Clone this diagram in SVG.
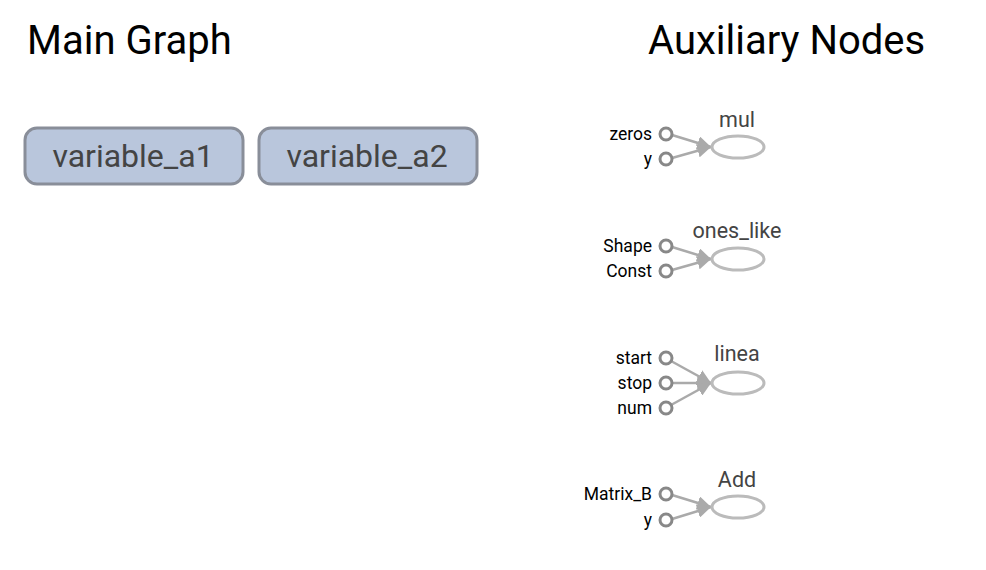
<svg xmlns="http://www.w3.org/2000/svg" width="986" height="570" viewBox="0 0 986 570">
<style>
.title{font-family:Roboto,"Liberation Sans",sans-serif;font-size:40px;fill:#000}
.nl{font-family:Roboto,"Liberation Sans",sans-serif;font-size:32px;fill:#444;text-anchor:middle}
.box{fill:#b9c6dc;stroke:#898e99;stroke-width:3}
.port{fill:#fff;stroke:#888;stroke-width:3}
.pl{font-family:Roboto,"Liberation Sans",sans-serif;font-size:17.5px;fill:#000;text-anchor:end}
.al{font-family:Roboto,"Liberation Sans",sans-serif;font-size:21.5px;fill:#444;text-anchor:middle}
.op{fill:#fff;stroke:#bbb;stroke-width:3}
.e{stroke:#aaa;stroke-width:2.5;fill:none;marker-end:url(#ah)}
</style>
<defs>
<marker id="ah" viewBox="0 0 10 10" refX="10" refY="5" markerWidth="5.5" markerHeight="5.5" orient="auto" markerUnits="strokeWidth">
<path d="M0,0 L10,5 L0,10 z" fill="#aaa"/>
</marker>
</defs>
<rect width="986" height="570" fill="#fff"/>
<text class="title" x="27" y="54">Main Graph</text>
<text class="title" x="648" y="54">Auxiliary Nodes</text>
<g id="variable_a1">
<rect class="box" x="25" y="128" width="218" height="56" rx="12"/>
<text class="nl" x="133" y="167">variable_a1</text>
</g>
<g id="variable_a2">
<rect class="box" x="259" y="128" width="218" height="56" rx="12"/>
<text class="nl" x="367" y="167">variable_a2</text>
</g>
<g id="connectors">
<line class="e" x1="672" y1="135" x2="711" y2="147"/>
<line class="e" x1="672" y1="158" x2="711" y2="147"/>
<line class="e" x1="672" y1="247" x2="711" y2="259"/>
<line class="e" x1="672" y1="270" x2="711" y2="259"/>
<line class="e" x1="671" y1="361" x2="711" y2="383"/>
<line class="e" x1="672" y1="383" x2="711" y2="383"/>
<line class="e" x1="671" y1="405" x2="711" y2="383"/>
<line class="e" x1="672" y1="495" x2="711" y2="507"/>
<line class="e" x1="672" y1="519" x2="711" y2="507"/>
</g>
<g id="mul">
<text class="al" x="737" y="127">mul</text>
<ellipse class="op" cx="738" cy="147" rx="26" ry="11"/>
<circle class="port" cx="666" cy="134" r="6"/>
<circle class="port" cx="666" cy="159" r="6"/>
<text class="pl" x="652" y="140">zeros</text>
<text class="pl" x="652" y="165">y</text>
</g>
<g id="ones_like">
<text class="al" x="737" y="238">ones_like</text>
<ellipse class="op" cx="738" cy="259" rx="26" ry="11"/>
<circle class="port" cx="666" cy="246" r="6"/>
<circle class="port" cx="666" cy="271" r="6"/>
<text class="pl" x="652" y="252">Shape</text>
<text class="pl" x="652" y="277">Const</text>
</g>
<g id="linea">
<text class="al" x="737" y="361">linea</text>
<ellipse class="op" cx="738" cy="383" rx="26" ry="11"/>
<circle class="port" cx="666" cy="358" r="6"/>
<circle class="port" cx="666" cy="383" r="6"/>
<circle class="port" cx="666" cy="408" r="6"/>
<text class="pl" x="652" y="364">start</text>
<text class="pl" x="652" y="389">stop</text>
<text class="pl" x="652" y="414">num</text>
</g>
<g id="Add">
<text class="al" x="737" y="487">Add</text>
<ellipse class="op" cx="738" cy="507" rx="26" ry="11"/>
<circle class="port" cx="666" cy="494" r="6"/>
<circle class="port" cx="666" cy="520" r="6"/>
<text class="pl" x="652" y="500">Matrix_B</text>
<text class="pl" x="652" y="526">y</text>
</g>
</svg>
